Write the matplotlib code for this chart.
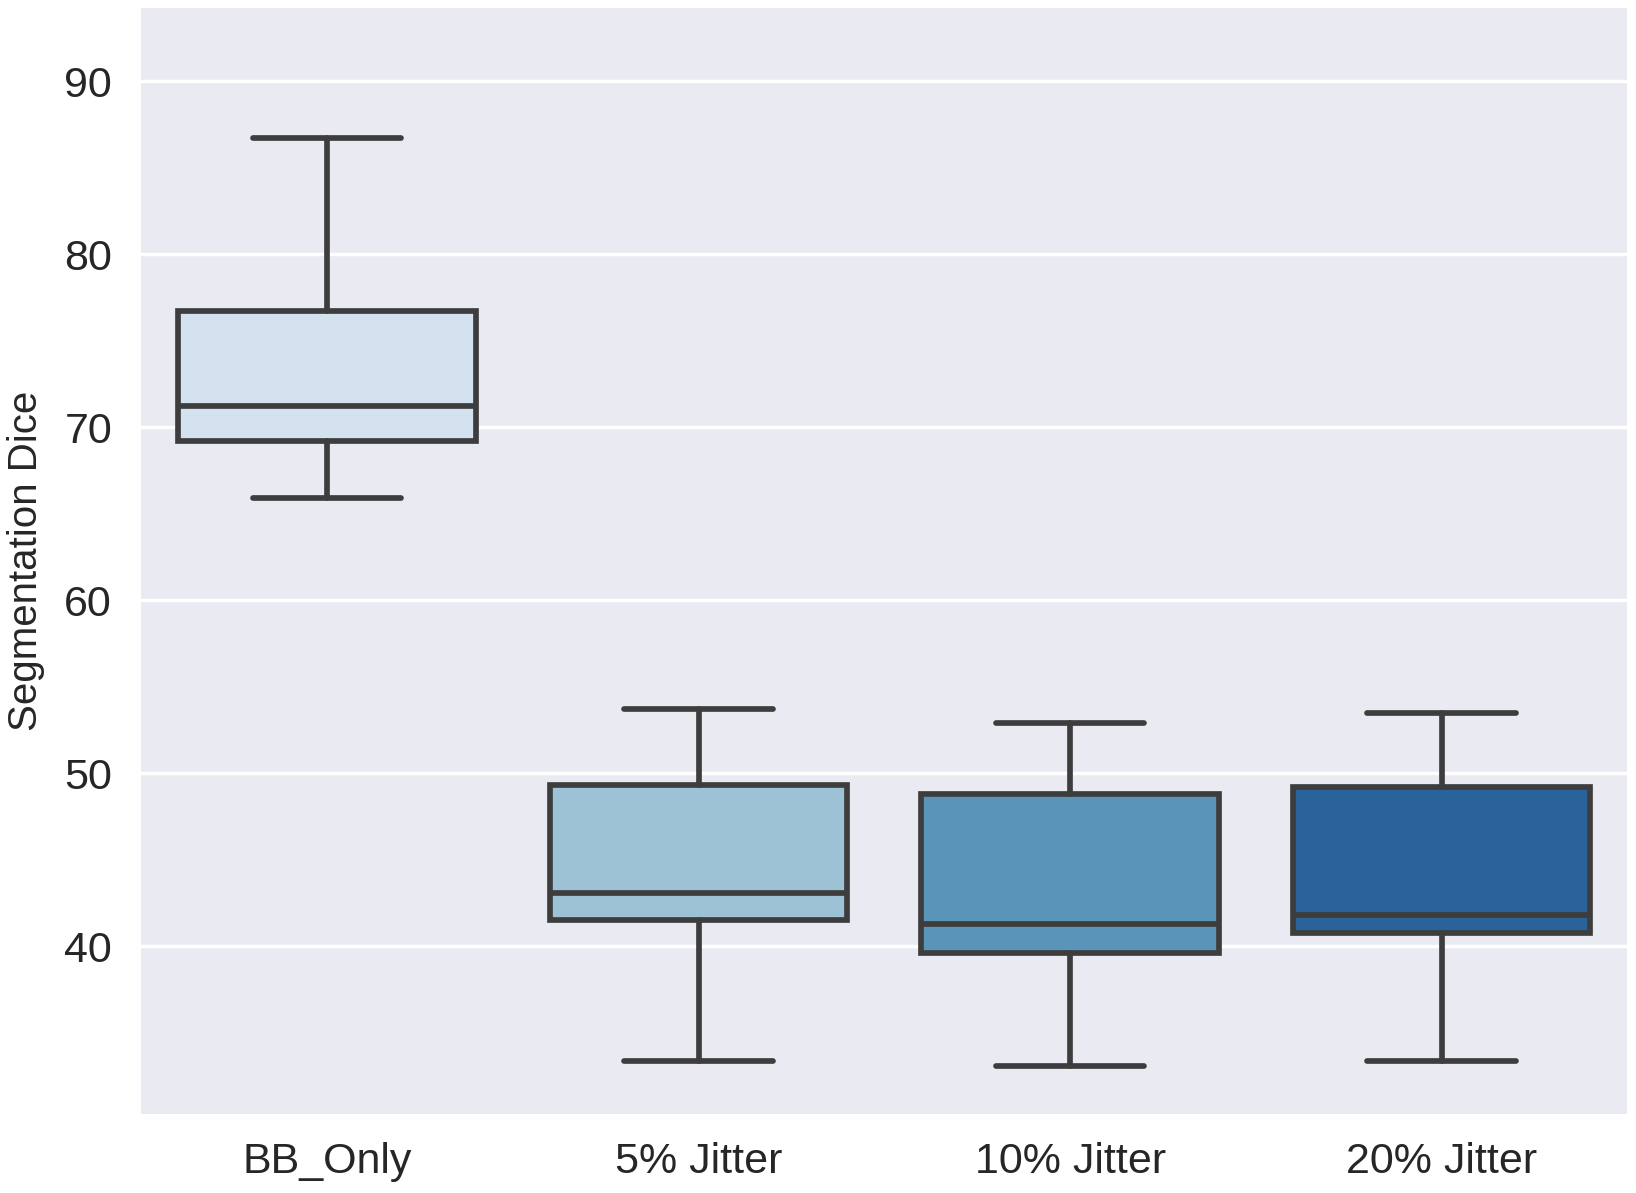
import matplotlib
matplotlib.use("Agg")
import matplotlib.pyplot as plt
import seaborn as sns

categories = ["BB_Only", "5% Jitter", "10% Jitter", "20% Jitter"]
whisker_low = [65.9, 33.4, 33.1, 33.4]
q1 = [69.2, 41.5, 39.6, 40.8]
median = [71.2, 43.1, 41.3, 41.8]
q3 = [76.7, 49.3, 48.8, 49.2]
whisker_high = [86.7, 53.7, 52.9, 53.5]
yticks = [40, 50, 60, 70, 80, 90]

sns.set_style("darkgrid")
plt.rcParams["font.family"] = ["Liberation Sans", "DejaVu Sans"]

fig = plt.figure(figsize=(16.36, 11.93), dpi=100)
ax = fig.add_axes([0.0863, 0.066, 0.9085, 0.927])

stats = []
for i, c in enumerate(categories):
    stats.append(dict(label=c, whislo=whisker_low[i], q1=q1[i], med=median[i],
                      q3=q3[i], whishi=whisker_high[i], fliers=[]))

pal = [sns.desaturate(c, 0.75) for c in sns.color_palette("Blues", 4)]
lc = "#3d3d3d"
lw = 4.1
bp = ax.bxp(stats, positions=range(len(categories)), widths=0.8, patch_artist=True,
            showfliers=False,
            boxprops=dict(edgecolor=lc, linewidth=lw),
            medianprops=dict(color=lc, linewidth=lw),
            whiskerprops=dict(color=lc, linewidth=lw),
            capprops=dict(color=lc, linewidth=lw, solid_capstyle="round"),
            capwidths=0.4)
for patch, col in zip(bp["boxes"], pal):
    patch.set_facecolor(col)
for k in ["boxes", "medians", "whiskers", "caps"]:
    for a in bp[k]:
        a.set_zorder(3)

ax.set_xlim(-0.5, 3.5)
ax.set_ylim(30.3, 94.2)
ax.set_yticks(yticks)
ax.grid(True, axis="y", color="white", linewidth=2.5)
ax.grid(False, axis="x")
ax.tick_params(axis="both", labelsize=31, colors="#262626", length=0)
ax.tick_params(axis="y", pad=21)
ax.tick_params(axis="x", pad=20)
ax.set_ylabel("Segmentation Dice", fontsize=29, color="#262626", labelpad=14)
for s in ax.spines.values():
    s.set_visible(False)

fig.savefig("out.png", dpi=100)
